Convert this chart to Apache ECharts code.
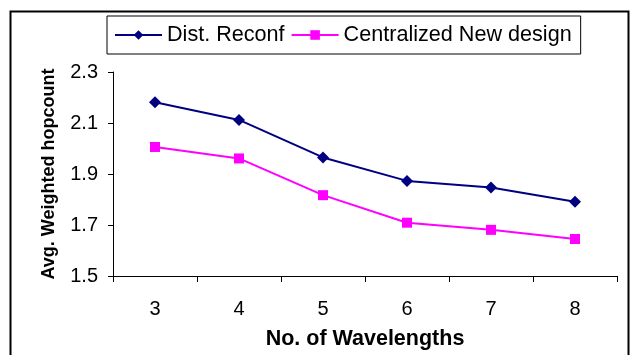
<!DOCTYPE html>
<html><head><meta charset="utf-8">
<script src="https://cdn.jsdelivr.net/npm/echarts@6/dist/echarts.min.js"></script>
<style>html,body{margin:0;padding:0;background:#fff}#c{width:632px;height:355px}</style>
</head><body><div id="c"></div>
<script>
const categories = ['3','4','5','6','7','8'];
const distReconf = [2.181, 2.112, 1.965, 1.873, 1.847, 1.791];
const centralizedNew = [2.006, 1.961, 1.817, 1.709, 1.681, 1.645];
const yTicks = [1.5, 1.7, 1.9, 2.1, 2.3];
const seriesNames = ['Dist. Reconf', 'Centralized New design'];

const chart = echarts.init(document.getElementById('c'));
const font = 'Arial, "Liberation Sans", sans-serif';
chart.setOption({
  animation: false,
  backgroundColor: '#fff',
  graphic: [{type:'rect', shape:{x:10.5, y:11.5, width:618, height:360}, style:{fill:'none', stroke:'#000', lineWidth:2}}],
  legend: {
    left: 107, top: 16, orient: 'horizontal',
    borderColor: '#000', borderWidth: 1, padding: [8, 9, 8, 7],
    itemGap: 6, itemWidth: 47, itemHeight: 12,
    textStyle: {fontFamily: font, fontSize: 21.6, color: '#000'},
    data: seriesNames
  },
  grid: {left: 113, right: 15, top: 72, bottom: 77},
  xAxis: {
    type: 'category', data: categories, boundaryGap: true,
    name: 'No. of Wavelengths', nameLocation: 'middle', nameGap: 52,
    nameTextStyle: {fontFamily: font, fontSize: 21.5, fontWeight: 'bold', color: '#000'},
    axisLine: {lineStyle: {color: '#000', width: 1}},
    axisTick: {show: true, length: 6, inside: false, lineStyle: {color: '#000'}},
    axisLabel: {fontFamily: font, fontSize: 20, color: '#000', margin: 23}
  },
  yAxis: {
    type: 'value', min: yTicks[0], max: yTicks[yTicks.length-1], interval: 0.2,
    name: 'Avg. Weighted hopcount', nameLocation: 'middle', nameGap: 55, nameRotate: 90,
    nameTextStyle: {fontFamily: font, fontSize: 18, fontWeight: 'bold', color: '#000'},
    axisLine: {show: true, lineStyle: {color: '#000', width: 1}},
    axisTick: {show: true, length: 5, lineStyle: {color: '#000'}},
    axisLabel: {fontFamily: font, fontSize: 20, color: '#000', margin: 15, formatter: v => v.toFixed(1)},
    splitLine: {show: false}
  },
  series: [
    {name: seriesNames[0], type: 'line', data: distReconf, symbol: 'diamond', symbolSize: 12,
     itemStyle: {color: '#000080'}, lineStyle: {color: '#000080', width: 2}},
    {name: seriesNames[1], type: 'line', data: centralizedNew, symbol: 'rect', symbolSize: 10,
     itemStyle: {color: '#FF00FF'}, lineStyle: {color: '#FF00FF', width: 2}}
  ]
});
</script></body></html>
